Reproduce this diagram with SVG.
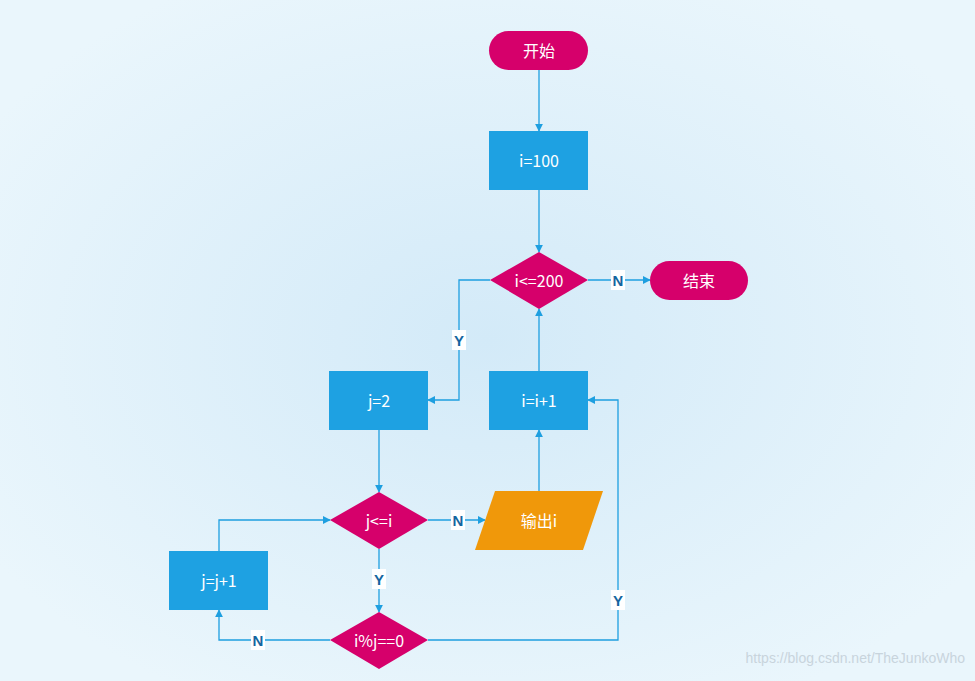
<svg xmlns="http://www.w3.org/2000/svg" width="975" height="681" viewBox="0 0 975 681">
<defs>
<radialGradient id="bg" cx="0.5" cy="0.5" r="0.6">
<stop offset="0" stop-color="#d3eaf8"/><stop offset="1" stop-color="#eaf6fc"/>
</radialGradient>
<marker id="ar" viewBox="0 0 10 10" refX="9" refY="5" markerWidth="8" markerHeight="8" orient="auto" markerUnits="userSpaceOnUse"><path d="M0,0 L10,5 L0,10 z" fill="#1e9fe0"/></marker>
<style>
.t{font-family:"Noto Sans CJK SC","Liberation Sans",sans-serif;font-size:16px;fill:#fff;text-anchor:middle;dominant-baseline:central}
.l{font-family:"Liberation Sans","DejaVu Sans",sans-serif;font-size:15px;fill:#1565a0;text-anchor:middle;dominant-baseline:central;font-weight:bold}
.pk{fill:#d6006b}.bl{fill:#1ea1e2}.or{fill:#f0980a}
#edges path{fill:none;stroke:#1e9fe0;stroke-width:1.3;marker-end:url(#ar)}
.lb{fill:#fff}
</style>
</defs>
<rect width="975" height="681" fill="url(#bg)"/>
<g id="edges">
<path d="M539,70 V131"/>
<path d="M539,190 V252"/>
<path d="M588,280 H650"/>
<path d="M490,280 H459 V400 H428"/>
<path d="M539,371 V309"/>
<path d="M379,430 V492"/>
<path d="M428,520 H485"/>
<path d="M539,491 V430"/>
<path d="M379,549 V612"/>
<path d="M330,640 H219 V610"/>
<path d="M428,640 H618 V400 H588"/>
<path d="M219,551 V520 H330"/>
<rect class="lb" x="611" y="270" width="14" height="20"/><text class="l" x="618" y="280">N</text>
<rect class="lb" x="452" y="330" width="14" height="20"/><text class="l" x="459" y="340">Y</text>
<rect class="lb" x="451" y="510" width="14" height="20"/><text class="l" x="458" y="520">N</text>
<rect class="lb" x="372" y="569" width="14" height="20"/><text class="l" x="379" y="579">Y</text>
<rect class="lb" x="251" y="630" width="14" height="20"/><text class="l" x="258" y="640">N</text>
<rect class="lb" x="611" y="590" width="14" height="20"/><text class="l" x="618" y="600">Y</text>
</g>
<g id="start"><rect class="pk" x="489" y="31" width="99" height="39" rx="19.5"/><text class="t" x="539" y="50">开始</text></g>
<g id="init"><rect class="bl" x="489" y="131" width="99" height="59"/><text class="t" x="539" y="160">i=100</text></g>
<g id="cond1"><polygon class="pk" points="539,252 588,280 539,309 490,280"/><text class="t" x="539" y="280">i&lt;=200</text></g>
<g id="end"><rect class="pk" x="650" y="261" width="98" height="39" rx="19.5"/><text class="t" x="699" y="280">结束</text></g>
<g id="j2"><rect class="bl" x="329" y="371" width="99" height="59"/><text class="t" x="379" y="400">j=2</text></g>
<g id="inc"><rect class="bl" x="489" y="371" width="99" height="59"/><text class="t" x="539" y="400">i=i+1</text></g>
<g id="cond2"><polygon class="pk" points="379,492 428,520 379,549 330,520"/><text class="t" x="379" y="520">j&lt;=i</text></g>
<g id="out"><polygon class="or" points="495,491 603,491 583,550 475,550"/><text class="t" x="539" y="520">输出i</text></g>
<g id="jinc"><rect class="bl" x="169" y="551" width="99" height="59"/><text class="t" x="219" y="580">j=j+1</text></g>
<g id="cond3"><polygon class="pk" points="379,612 428,640 379,669 330,640"/><text class="t" x="379" y="640">i%j==0</text></g>
<text x="965" y="663" font-family="Liberation Sans,sans-serif" font-size="14" fill="#c8d4dc" text-anchor="end">https://blog.csdn.net/TheJunkoWho</text>
</svg>
